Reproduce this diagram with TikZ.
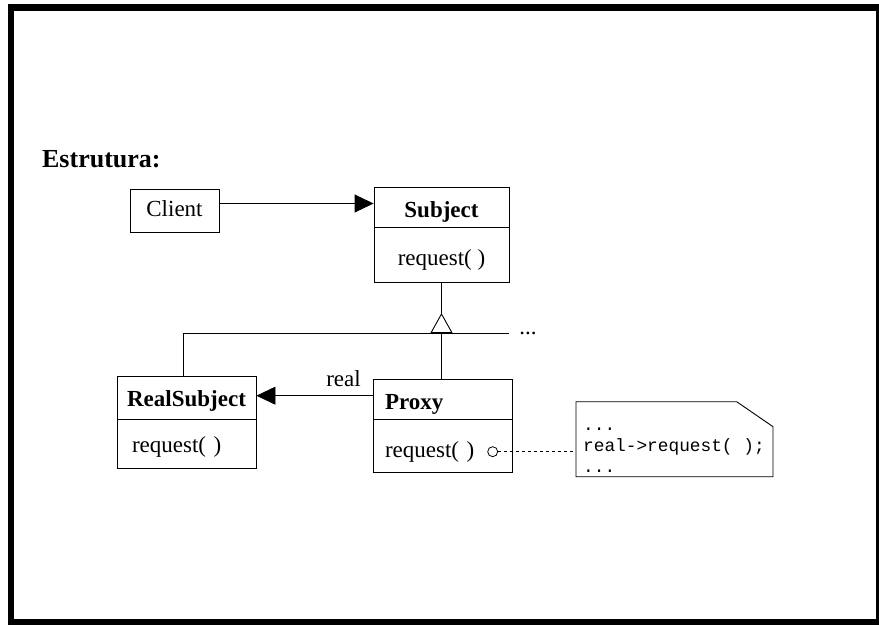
\documentclass[tikz,border=0pt]{standalone}
\usepackage{fontspec}
\setmainfont{Liberation Serif}
\setmonofont{Liberation Mono}
\usetikzlibrary{arrows.meta,positioning}

\begin{document}
\begin{tikzpicture}[x=1pt,y=-1pt,line width=0.9pt,
      font=\fontsize{23}{27}\selectfont,
      head/.style={draw,inner ysep=0pt,text height=18pt,text depth=0pt,font=\fontsize{23}{27}\selectfont\bfseries},
      ops/.style={draw,inner ysep=0pt,text height=15pt,text depth=0pt},
      solid tip/.style={-{Triangle[length=19pt,width=18pt]}}]
      \useasboundingbox (0,0) rectangle (879,626);
      \draw[line width=6.5pt] (11,7.5) rectangle (879.5,622);
      \node[anchor=base west,inner sep=0pt,font=\fontsize{26}{30}\selectfont\bfseries] (title) at (41.7,167) {Estrutura:};
      \node[draw,minimum width=89pt,minimum height=43pt,inner sep=0pt,text height=12pt,text depth=0pt] (client) at (174.5,210.5) {Client};
      \node[head,minimum width=135pt,minimum height=40pt,inner xsep=0pt,text height=21pt] (subject) at (441.5,207) {Subject};
      \node[ops,minimum width=135pt,minimum height=55pt,inner xsep=0pt,text height=20pt,below=0pt of subject] (subjectops) {request( )};
      \node[head,minimum width=139pt,minimum height=43pt,inner xsep=0pt,text height=17pt] (realsub) at (186.5,397.5) {RealSubject};
      \node[ops,text width=109pt,inner xsep=15pt,align=left,minimum height=49pt,text height=17pt,below=0pt of realsub] (realsubops) {request( )};
      \node[head,text width=115pt,inner xsep=12pt,align=left,minimum height=40pt,text height=20pt] (proxy) at (442.5,399) {Proxy};
      \node[ops,text width=115pt,inner xsep=12pt,align=left,minimum height=53pt,text height=22pt,below=0pt of proxy] (proxyops) {request( )};
      \draw[solid tip] ([yshift=7pt]client.east) coordinate (c1) -- (c1 -| subject.west);
      \coordinate (gen) at (441.5,333);
      \coordinate (tip) at (441.5,313);
      \coordinate (genend) at (509,333);
      \draw[-{Triangle[open,length=20pt,width=22pt]}] (gen) -- (tip);
      \draw (tip) -- (subjectops.south);
      \draw ([xshift=-3.5pt]realsub.north) |- (genend);
      \draw (proxy.north -| gen) -- (gen);
      \node[anchor=base west,inner sep=0pt] (more) at (519,334) {...};
      \draw[solid tip] ([yshift=3.3pt]proxy.west) coordinate (c2) -- (c2 -| realsub.east)
        node[pos=0.25,above=5pt] (reallabel) {real};
      \node[circle,draw,minimum size=10pt,inner sep=0pt,line width=0.8pt] (dot) at (492.7,451.7) {};
      \coordinate (notenw) at (576,401.7);
      \draw (notenw) -- (736.7,401.7) -- (773,426.7) -- (773,476.7) -- (576,476.7) -- cycle;
      \draw[dash pattern=on 3pt off 3pt] (dot) -- (dot -| notenw);
      \node[anchor=base west,align=left,inner sep=0pt,font=\ttfamily\fontsize{17.8}{21}\selectfont] (notetext) at (582.7,472) {...\\real->request( );\\...};
    \end{tikzpicture}
\end{document}
